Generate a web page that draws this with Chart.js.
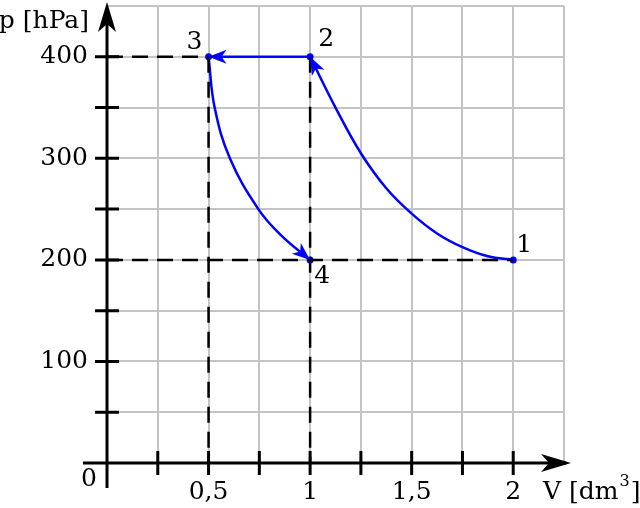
<!DOCTYPE html>
<html>
<head>
<meta charset="utf-8">
<script src="https://cdn.jsdelivr.net/npm/chart.js@4.4.0/dist/chart.umd.min.js"></script>
<style>
  html, body { margin: 0; padding: 0; background: #fff; }
</style>
</head>
<body>
<canvas id="pv" width="640" height="508"></canvas>
<script>
// state points of the cycle 1 -> 2 -> 3 -> 4
const pointNames = ["1", "2", "3", "4"];
const pointV = [2, 1, 0.5, 1];
const pointP = [200, 400, 400, 200];

// curve 1 -> 2 (V in dm3, p in hPa)
const curve12V = [2, 1.875, 1.75, 1.625, 1.5, 1.375, 1.25, 1.125, 1];
const curve12P = [200, 203.5, 212.5, 226, 245.5, 270.5, 305, 350, 400];
// curve 3 -> 4
const curve34V = [0.5, 0.53, 0.605, 0.745, 0.86, 1];
const curve34P = [400, 350, 300, 250, 223.6, 200];

// axis labels
const xTickValues = [0.5, 1, 1.5, 2];
const xTickLabels = ["0,5", "1", "1,5", "2"];
const yTickValues = [100, 200, 300, 400];
const yTickLabels = ["100", "200", "300", "400"];

const xMax = 2.25, xStep = 0.25;
const yMax = 450, yStep = 50;

const blue = "#0000ff";
const font = "25px 'DejaVu Serif'";
// where the point numbers sit relative to each point (px)
const nameOffsets = [[11, -14], [16, -17], [-14, -14], [12, 17]];

const toXY = (vs, ps) => vs.map((v, i) => ({ x: v, y: ps[i] }));

//dashed helper lines: p=400 up to point 3, p=200 up to point 1, verticals below 3 and 2
const dashed = (pts) => ({
  data: pts,
  showLine: true,
  borderColor: "#000",
  borderWidth: 2.5,
  borderDash: [16, 9],
  pointRadius: 0,
  tension: 0,
});

const curve = (pts) => ({
  data: pts,
  showLine: true,
  borderColor: blue,
  borderWidth: 2.5,
  pointRadius: 0,
  tension: 0.4,
  arrow: true,
});

const datasets = [
  dashed([{ x: 0, y: pointP[2] }, { x: pointV[2], y: pointP[2] }]),
  dashed([{ x: 0, y: pointP[0] }, { x: pointV[0], y: pointP[0] }]),
  dashed([{ x: pointV[2], y: pointP[2] }, { x: pointV[2], y: 0 }]),
  dashed([{ x: pointV[1], y: pointP[1] }, { x: pointV[1], y: 0 }]),
  curve(toXY(curve12V, curve12P)),
  {
    data: [{ x: pointV[1], y: pointP[1] }, { x: pointV[2], y: pointP[2] }],
    showLine: true, borderColor: blue, borderWidth: 2.5, pointRadius: 0, tension: 0,
    arrow: true,
  },
  curve(toXY(curve34V, curve34P)),
  {
    data: toXY(pointV, pointP),
    showLine: false, pointRadius: 3.5, pointBackgroundColor: blue, pointBorderWidth: 0,
  },
];

// barbed arrow head with its tip at (tx, ty), pointing along angle a
function drawHead(ctx, tx, ty, a, len, half, notch) {
  ctx.save();
  ctx.translate(tx, ty);
  ctx.rotate(a);
  ctx.beginPath();
  ctx.moveTo(0, 0);
  ctx.lineTo(-len, -half);
  ctx.lineTo(-len + notch, 0);
  ctx.lineTo(-len, half);
  ctx.closePath();
  ctx.fill();
  ctx.restore();
}

const arrowPlugin = {
  id: "arrows",
  afterDatasetsDraw(chart) {
    const ctx = chart.ctx;
    ctx.save();
    ctx.fillStyle = blue;
    chart.data.datasets.forEach((ds, i) => {
      if (!ds.arrow) return;
      const pts = chart.getDatasetMeta(i).data;
      const last = pts[pts.length - 1];
      let fx = last.cp1x, fy = last.cp1y;
      if (fx === undefined || (fx === last.x && fy === last.y)) {
        fx = pts[pts.length - 2].x;
        fy = pts[pts.length - 2].y;
      }
      const a = Math.atan2(last.y - fy, last.x - fx);
      drawHead(ctx, last.x, last.y, a, 18, 7, 5);
    });
    ctx.restore();
  },
};

const axesPlugin = {
  id: "axes",
  afterDatasetsDraw(chart) {
    const { ctx, chartArea } = chart;
    const xs = chart.scales.x, ys = chart.scales.y;
    const x0 = xs.getPixelForValue(0), y0 = ys.getPixelForValue(0);
    ctx.save();
    ctx.strokeStyle = "#000";
    ctx.fillStyle = "#000";
    ctx.lineWidth = 3;

    // axis lines
    ctx.beginPath();
    ctx.moveTo(x0 - 24, y0);
    ctx.lineTo(chartArea.right + 2, y0);
    ctx.moveTo(x0, y0 + 25);
    ctx.lineTo(x0, chartArea.top + 2);
    ctx.stroke();
    drawHead(ctx, chartArea.right + 7, y0, 0, 30, 9, 8);
    drawHead(ctx, x0, chartArea.top - 4, -Math.PI / 2, 30, 9, 8);

    // tick marks
    ctx.beginPath();
    for (let v = xStep; v <= xMax - xStep + 1e-9; v += xStep) {
      const px = xs.getPixelForValue(v);
      ctx.moveTo(px, y0 - 12);
      ctx.lineTo(px, y0 + 12);
    }
    for (let v = yStep; v <= yMax - yStep + 1e-9; v += yStep) {
      const py = ys.getPixelForValue(v);
      ctx.moveTo(x0 - 12, py);
      ctx.lineTo(x0 + 12, py);
    }
    ctx.stroke();

    // tick labels
    ctx.font = font;
    ctx.textBaseline = "middle";
    ctx.textAlign = "center";
    xTickValues.forEach((v, i) => {
      ctx.fillText(xTickLabels[i], xs.getPixelForValue(v), y0 + 29);
    });
    ctx.textAlign = "right";
    yTickValues.forEach((v, i) => {
      ctx.fillText(yTickLabels[i], x0 - 19, ys.getPixelForValue(v));
    });
    ctx.textAlign = "center";
    ctx.fillText("0", x0 - 18, y0 + 16);

    // axis titles
    ctx.textAlign = "right";
    ctx.fillText("p [hPa]", x0 - 18, chartArea.top + 15);
    ctx.textAlign = "left";
    let tx = chartArea.right - 21;
    const ty = y0 + 29;
    ctx.fillText("V [dm", tx, ty);
    tx += ctx.measureText("V [dm").width;
    ctx.font = "16px 'DejaVu Serif'";
    ctx.fillText("3", tx + 1, ty - 10);
    tx += ctx.measureText("3").width + 2;
    ctx.font = font;
    ctx.fillText("]", tx, ty);

    // point numbers
    ctx.textAlign = "center";
    pointNames.forEach((n, i) => {
      const px = xs.getPixelForValue(pointV[i]) + nameOffsets[i][0];
      const py = ys.getPixelForValue(pointP[i]) + nameOffsets[i][1];
      ctx.fillText(n, px, py);
    });
    ctx.restore();
  },
};

window.addEventListener("DOMContentLoaded", () => {
  new Chart(document.getElementById("pv"), {
    type: "scatter",
    data: { datasets: datasets },
    options: {
      responsive: false,
      animation: false,
      layout: { padding: { left: 107, right: 76, top: 6, bottom: 45 } },
      plugins: { legend: { display: false }, tooltip: { enabled: false } },
      scales: {
        x: {
          type: "linear", min: 0, max: xMax,
          ticks: { display: false, stepSize: xStep },
          grid: { color: "#c4c4c4", lineWidth: 2, drawTicks: false },
          border: { display: false },
        },
        y: {
          type: "linear", min: 0, max: yMax,
          ticks: { display: false, stepSize: yStep },
          grid: { color: "#c4c4c4", lineWidth: 2, drawTicks: false },
          border: { display: false },
        },
      },
    },
    plugins: [axesPlugin, arrowPlugin],
  });
});
</script>
</body>
</html>
